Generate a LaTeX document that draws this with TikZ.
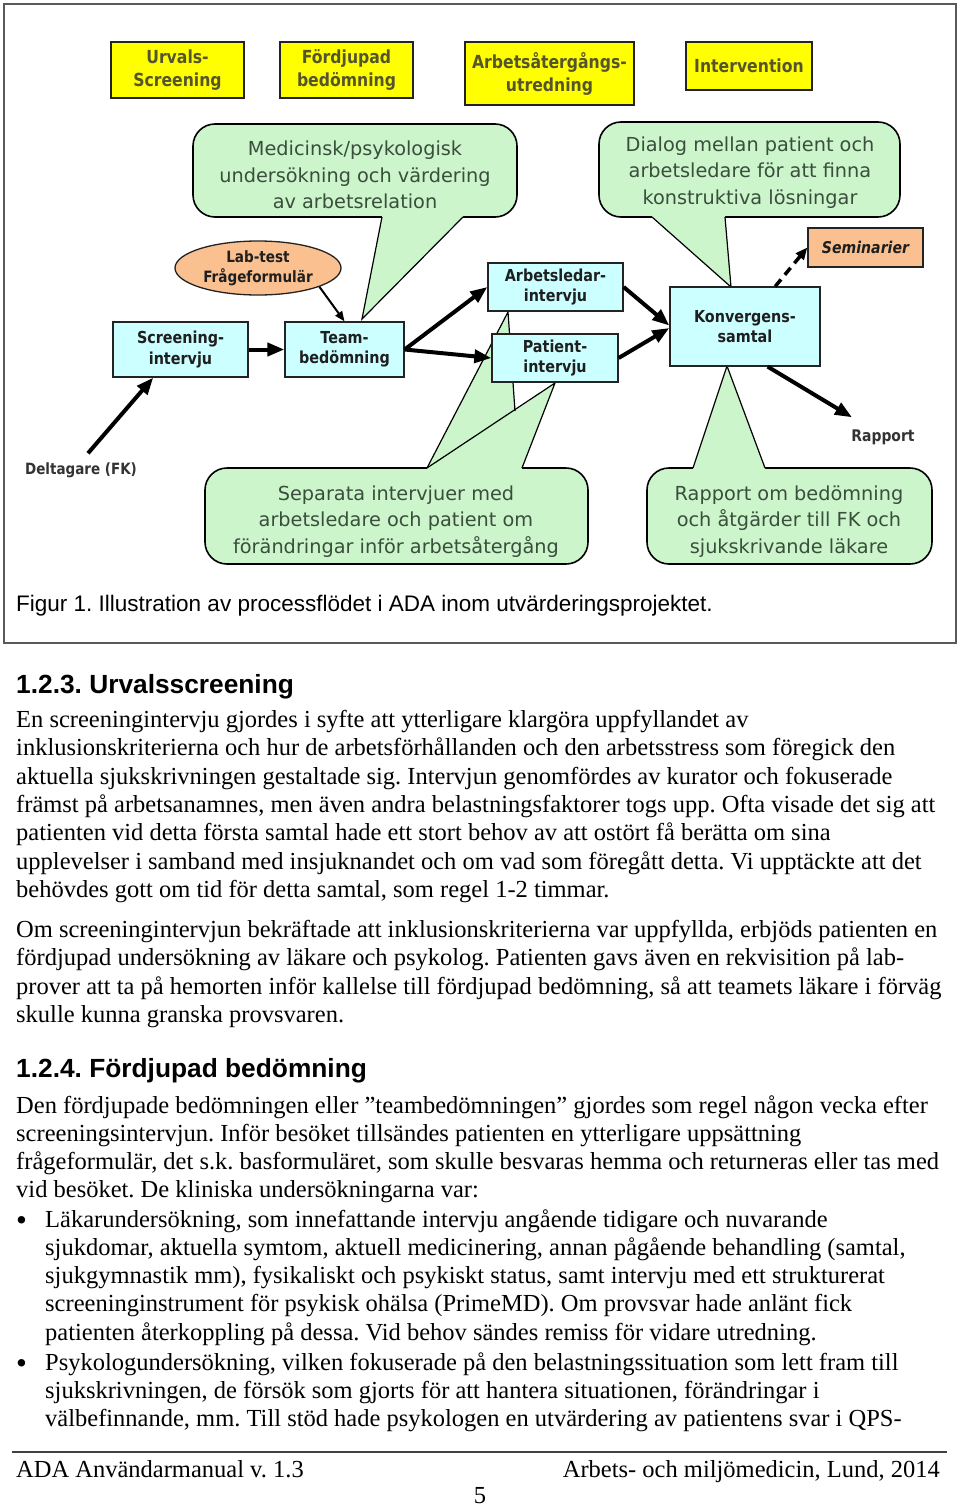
\documentclass[tikz,border=0pt]{standalone}
\usepackage{fontspec}
\setmainfont{Liberation Serif}
\newfontfamily\arialf{Liberation Sans}
\newfontfamily\dsans{DejaVu Sans}[FakeStretch=0.87]
\newfontfamily\dsansr{DejaVu Sans}
\usetikzlibrary{arrows.meta,shapes.geometric,calc}
\AtBeginDocument{\frenchspacing}
\definecolor{cYellow}{RGB}{255,255,0}
\definecolor{cYText}{RGB}{85,85,45}
\definecolor{cGreen}{RGB}{204,245,204}
\definecolor{cGText}{RGB}{58,78,60}
\definecolor{cBlue}{RGB}{204,255,255}
\definecolor{cOrange}{RGB}{250,192,144}
\definecolor{cEdge}{RGB}{35,35,35}
\definecolor{cFrame}{RGB}{90,90,90}
\newcommand\txtblock[4]{%
  \foreach \lineText [count=\k from 0] in {#4}{%
    \node[bodytext] (#1\k) at (#2,{#3+28.3*\k}) {\lineText};}}
\begin{document}
\begin{tikzpicture}[x=1pt,y=-1pt,
  ybox/.style={draw=cEdge, line width=1.5, fill=cYellow, inner sep=0, align=center,
    font={\dsans\bfseries\fontsize{18}{23}\selectfont}, text=cYText},
  bbox/.style={draw=cEdge, line width=1.3, fill=cBlue, inner sep=0, align=center,
    font={\dsans\bfseries\fontsize{16.5}{20.5}\selectfont}, text=black!88},
  obox/.style={draw=cEdge, line width=1.3, fill=cOrange, inner sep=0, align=center,
    font={\dsans\bfseries\fontsize{15.6}{20}\selectfont}, text=black!88},
  cbody/.style={draw=black, line width=1.6, fill=cGreen, rounded corners=22, inner sep=0},
  ctext/.style={align=center, text=cGText, inner sep=0,
    font={\dsansr\fontsize{19.3}{26.7}\selectfont}},
  tailline/.style={draw=black, line width=1.2, line join=miter},
  thickarrow/.style={line width=4, -{Triangle[length=17,width=13]}},
  thinarrow/.style={line width=2, -{Triangle[length=10,width=8]}},
  dasharrow/.style={line width=3.5, dash pattern=on 9pt off 6pt, -{Triangle[length=12,width=10]}},
  lbl/.style={inner sep=0, text=black!80, font={\dsans\bfseries\fontsize{15.5}{19}\selectfont}},
  bodytext/.style={anchor=base west, inner sep=0, font={\fontsize{24.5}{28.3}\selectfont}},
  bulletmark/.style={anchor=base, inner sep=0, font={\fontsize{31}{31}\selectfont}},
  headtext/.style={anchor=base west, inner sep=0, font={\arialf\bfseries\fontsize{26.3}{30}\selectfont}}
]
\fill[white] (0,0) rectangle (960,1507);
\useasboundingbox (0,0) rectangle (960,1507);
\draw[cFrame, line width=1.5] (4,4) rectangle (956,643);

% ---- header boxes
\node[ybox, minimum width=133, minimum height=56] (hUrv) at (177.5,70) {Urvals-\\Screening};
\node[ybox, minimum width=133, minimum height=56] (hFor) at (346.5,70) {Fördjupad\\bedömning};
\node[ybox, minimum width=169, minimum height=63] (hArb) at (549.5,73.5) {Arbetsåtergångs-\\utredning};
\node[ybox, minimum width=126, minimum height=48] (hInt) at (749,66) {Intervention};

% ---- callouts (bodies)
\node[cbody, minimum width=324, minimum height=93] (cA) at (355,170.5) {};
\node[cbody, minimum width=301, minimum height=95] (cB) at (749.5,169.5) {};
\node[cbody, minimum width=383, minimum height=96] (cC) at (396.5,516) {};
\node[cbody, minimum width=285, minimum height=96] (cD) at (789.5,516) {};

% tails
\fill[cGreen] (382,212) -- (382,217) -- (362,319) -- (463,217) -- (463,212) -- cycle;
\draw[tailline] (382,217) -- (362,319) -- (463,217);
\fill[cGreen] (652,212) -- (652,217) -- (731,287) -- (725,217) -- (725,212) -- cycle;
\draw[tailline] (652,217) -- (731,287) -- (725,217);
\fill[cGreen] (427,473) -- (427,468) -- (508,312) -- (515,411) -- (555,383) -- (522,468) -- (522,473) -- cycle;
\draw[tailline] (427,468) -- (508,312) -- (515,411);
\draw[tailline] (427,468) -- (555,383) -- (522,468);
\fill[cGreen] (693,473) -- (693,468) -- (727,366) -- (765,468) -- (765,473) -- cycle;
\draw[tailline] (693,468) -- (727,366) -- (765,468);

% callout texts
\node[ctext] (tA) at (355,175) {Medicinsk/psykologisk\\undersökning och värdering\\av arbetsrelation};
\node[ctext] (tB) at (750,172.5) {Dialog mellan patient och\\arbetsledare för att finna\\konstruktiva lösningar};
\node[ctext] (tC) at (396,521.5) {Separata intervjuer med\\arbetsledare och patient om\\förändringar inför arbetsåtergång};
\node[ctext] (tD) at (789,521.5) {Rapport om bedömning\\och åtgärder till FK och\\sjukskrivande läkare};

% ---- process boxes
\node[obox, ellipse, minimum width=166, minimum height=54] (lab) at (258,268) {Lab-test\\Frågeformulär};
\node[obox, minimum width=115, minimum height=39,
  font={\dsans\bfseries\itshape\fontsize{16.2}{20}\selectfont}] (sem) at (865.5,247.5) {Seminarier};
\node[bbox, minimum width=135, minimum height=55] (scr) at (180.5,349.5) {Screening-\\intervju};
\node[bbox, minimum width=119, minimum height=55] (team) at (344.5,349.5) {Team-\\bedömning};
\node[bbox, minimum width=135, minimum height=48] (arb) at (555.5,287) {Arbetsledar-\\intervju};
\node[bbox, minimum width=126, minimum height=48] (pat) at (555,358) {Patient-\\intervju};
\node[bbox, minimum width=150, minimum height=79] (konv) at (745,326.5) {Konvergens-\\samtal};

\node[lbl] (del) at (81,470) {Deltagare (FK)};
\node[lbl, font={\dsans\bfseries\fontsize{16}{19}\selectfont}] (rap) at (883,437) {Rapport};

% ---- arrows
\draw[thickarrow] ($(del.north)+(7,-9)$) -- ($(scr.south west)!0.3!(scr.south east)$);
\draw[thickarrow] (scr.east) -- (team.west);
\draw[thinarrow] (lab.-17) -- (team.north);
\draw[thickarrow] (team.east) -- (arb.west);
\draw[thickarrow] (team.east) -- (pat.west);
\draw[thickarrow] (arb.east) -- ($(konv.west)+(0,-1)$);
\draw[thickarrow] (pat.east) -- ($(konv.west)+(0,1.5)$);
\draw[thickarrow] ($(konv.south west)!0.65!(konv.south east)$) -- ($(rap.north)+(-31,-12)$);
\draw[dasharrow] ($(konv.north west)!0.7!(konv.north east)$) -- (sem.west);

% ---- caption
\node[anchor=base west, inner sep=0, font={\arialf\fontsize{22.5}{26}\selectfont}] (cap) at (16,611)
  {Figur 1. Illustration av processflödet i ADA inom utvärderingsprojektet.};

% ---- text
\node[headtext] (h1) at (16,693) {1.2.3. Urvalsscreening};
\txtblock{pa}{16}{727.5}{%
{En screeningintervju gjordes i syfte att ytterligare klargöra uppfyllandet av},
{inklusionskriterierna och hur de arbetsförhållanden och den arbetsstress som föregick den},
{aktuella sjukskrivningen gestaltade sig. Intervjun genomfördes av kurator och fokuserade},
{främst på arbetsanamnes, men även andra belastningsfaktorer togs upp. Ofta visade det sig att},
{patienten vid detta första samtal hade ett stort behov av att ostört få berätta om sina},
{upplevelser i samband med insjuknandet och om vad som föregått detta. Vi upptäckte att det},
{behövdes gott om tid för detta samtal, som regel 1-2 timmar.}}
\txtblock{pb}{16}{937.5}{%
{Om screeningintervjun bekräftade att inklusionskriterierna var uppfyllda, erbjöds patienten en},
{fördjupad undersökning av läkare och psykolog. Patienten gavs även en rekvisition på lab-},
{prover att ta på hemorten inför kallelse till fördjupad bedömning, så att teamets läkare i förväg},
{skulle kunna granska provsvaren.}}
\node[headtext] (h2) at (16,1077) {1.2.4. Fördjupad bedömning};
\txtblock{pc}{16}{1113}{%
{Den fördjupade bedömningen eller ”teambedömningen” gjordes som regel någon vecka efter},
{screeningsintervjun. Inför besöket tillsändes patienten en ytterligare uppsättning},
{frågeformulär, det s.k. basformuläret, som skulle besvaras hemma och returneras eller tas med},
{vid besöket. De kliniska undersökningarna var:}}
\node[bulletmark] (b1) at (21.5,1230) {•};
\txtblock{pd}{45}{1227}{%
{Läkarundersökning, som innefattande intervju angående tidigare och nuvarande},
{sjukdomar, aktuella symtom, aktuell medicinering, annan pågående behandling (samtal,},
{sjukgymnastik mm), fysikaliskt och psykiskt status, samt intervju med ett strukturerat},
{screeninginstrument för psykisk ohälsa (PrimeMD). Om provsvar hade anlänt fick},
{patienten återkoppling på dessa. Vid behov sändes remiss för vidare utredning.}}
\node[bulletmark] (b2) at (21.5,1373) {•};
\txtblock{pe}{45}{1370}{%
{Psykologundersökning, vilken fokuserade på den belastningssituation som lett fram till},
{sjukskrivningen, de försök som gjorts för att hantera situationen, förändringar i},
{välbefinnande, mm. Till stöd hade psykologen en utvärdering av patientens svar i QPS-}}

% ---- footer
\draw[black!75, line width=2] (12,1452) -- (947,1452);
\node[bodytext] (fl) at (16,1477) {ADA Användarmanual v. 1.3};
\node[anchor=base east, inner sep=0, font={\fontsize{24.5}{28.3}\selectfont}] (fr) at (940,1477) {Arbets- och miljömedicin, Lund, 2014};
\node[anchor=base, inner sep=0, font={\fontsize{24.5}{28.3}\selectfont}] (pg) at (480,1503) {5};
\end{tikzpicture}
\end{document}
